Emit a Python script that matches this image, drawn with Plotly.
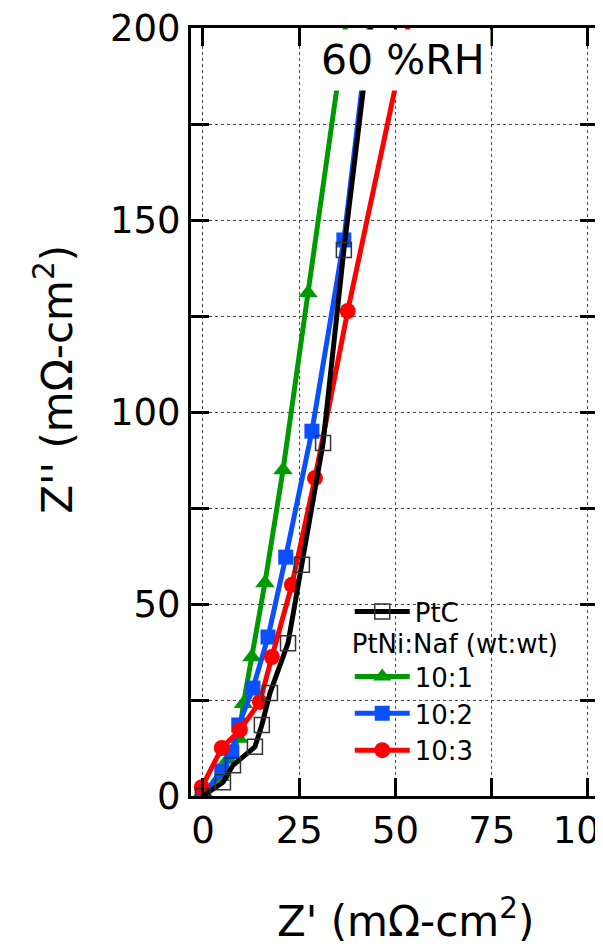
import plotly.graph_objects as go

# Nyquist data at 60 %RH, Z' and Z'' in mOhm-cm2
ptc_x = [0, 5.2, 7.8, 13.5, 15.3, 17.4, 22.1, 25.7, 31.2, 36.6, 45.4]
ptc_y = [0, 3.6, 8.0, 12.8, 18.5, 26.8, 39.8, 60.2, 91.9, 142.2, 215]

r101_x = [0, 4.5, 6.5, 9.3, 10.5, 12.7, 16.1, 20.8, 27.3, 39.1]
r101_y = [1.0, 5.0, 9.5, 15.0, 24.0, 36.2, 55.5, 84.9, 131.0, 215]

r102_x = [0, 4.9, 7.5, 9.3, 13.0, 16.9, 21.5, 28.3, 36.6, 44.9]
r102_y = [0.3, 6.5, 11.5, 18.5, 28.1, 41.4, 62.2, 95.0, 144.8, 215]

r103_x = [-0.3, 4.9, 9.6, 14.8, 17.9, 23.1, 29.1, 37.6, 56.4]
r103_y = [2.3, 12.5, 17.2, 24.5, 36.2, 55.0, 82.8, 126.3, 215]

x_ticks = [0, 25, 50, 75, 100]

GREEN = '#009a00'
BLUE = '#0a50ff'
RED = '#ff0000'
FONT = 'DejaVu Sans'

fig = go.Figure()

fig.add_trace(go.Scatter(
    x=r101_x, y=r101_y, name='10:1', mode='lines+markers',
    line=dict(color=GREEN, width=5),
    marker=dict(symbol='triangle-up', size=17, color=GREEN),
    legend='legend2',
))
fig.add_trace(go.Scatter(
    x=r102_x, y=r102_y, name='10:2', mode='lines+markers',
    line=dict(color=BLUE, width=5),
    marker=dict(symbol='square', size=15, color=BLUE),
    legend='legend2',
))
fig.add_trace(go.Scatter(
    x=r103_x, y=r103_y, name='10:3', mode='lines+markers',
    line=dict(color=RED, width=5),
    marker=dict(symbol='circle', size=16, color=RED),
    legend='legend2',
))
fig.add_trace(go.Scatter(
    x=ptc_x, y=ptc_y, name='PtC', mode='lines+markers',
    line=dict(color='black', width=5),
    marker=dict(symbol='square-open', size=15, color='#333333',
                line=dict(width=1.5, color='#333333')),
    legend='legend', showlegend=True,
))

axis_common = dict(
    showline=True, linecolor='black', linewidth=3, mirror='ticks',
    ticks='inside', ticklen=18, tickwidth=3, tickcolor='black',
    showgrid=True, gridcolor='#444444', gridwidth=1, griddash='dot',
    zeroline=False, automargin=False, ticklabeloverflow='allow',
    tickfont=dict(family=FONT, size=37, color='black'),
)

# page body has an 8px margin, so the figure is a bit smaller than the window
fig.update_layout(
    width=595, height=939,
    margin=dict(l=183, r=5, t=20, b=151),
    plot_bgcolor='white', paper_bgcolor='white',
    font=dict(family=FONT, color='black'),
    showlegend=True,
    xaxis=dict(
        range=[-3.1, 102.6],
        tickmode='array', tickvals=x_ticks,
        **axis_common,
    ),
    yaxis=dict(
        range=[0, 200],
        tick0=0, dtick=50,
        minor=dict(dtick=25, ticks='inside', ticklen=18, tickwidth=3,
                   tickcolor='black', showgrid=True, gridcolor='#444444',
                   gridwidth=1, griddash='dot'),
        **axis_common,
    ),
    legend=dict(
        x=0.39, y=0.240, xanchor='left', yanchor='middle',
        bgcolor='rgba(0,0,0,0)', itemwidth=55,
        font=dict(family=FONT, size=26, color='black'),
    ),
    legend2=dict(
        x=0.39, y=0.230, xanchor='left', yanchor='top',
        bgcolor='rgba(0,0,0,0)', itemwidth=55, tracegroupgap=0,
        title=dict(text='PtNi:Naf (wt:wt)', side='top',
                   font=dict(family=FONT, size=26, color='black')),
        font=dict(family=FONT, size=26, color='black'),
        traceorder='normal',
    ),
    annotations=[
        dict(x=51.7, y=191.7, xref='x', yref='y', text='60 %RH',
             showarrow=False, bgcolor='white', borderpad=6,
             font=dict(family=FONT, size=41, color='black')),
        dict(x=0.526, y=-0.160, xref='paper', yref='paper',
             xanchor='center', yanchor='middle',
             text="Z' (mΩ-cm<sup>2</sup>)", showarrow=False,
             font=dict(family=FONT, size=42, color='black')),
        dict(x=-0.334, y=0.542, xref='paper', yref='paper',
             xanchor='center', yanchor='middle', textangle=-90,
             text="Z'' (mΩ-cm<sup>2</sup>)", showarrow=False,
             font=dict(family=FONT, size=42, color='black')),
    ],
)

fig.write_html('out.html')
